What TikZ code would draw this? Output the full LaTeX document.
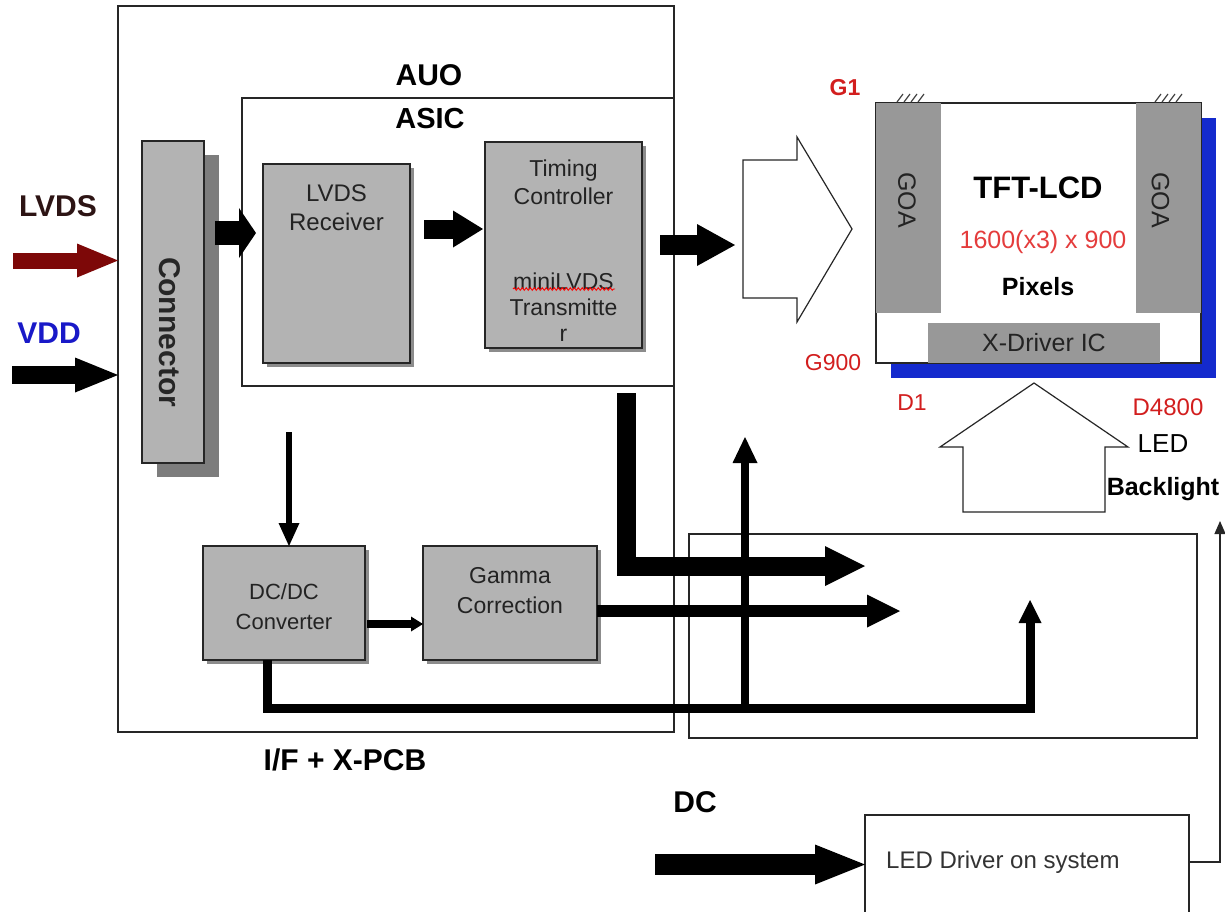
\documentclass[tikz,border=0pt]{standalone}
\usepackage{fontspec}
\setmainfont{Liberation Sans}
\usepackage{xcolor}
\usepackage{tikz}
\usetikzlibrary{arrows.meta,positioning,shadows,decorations.pathmorphing}
\definecolor{boxgray}{RGB}{179,179,179}
\definecolor{shgray}{RGB}{125,125,125}
\definecolor{goagray}{RGB}{152,152,152}
\definecolor{txtgray}{RGB}{35,35,35}
\definecolor{lblred}{RGB}{210,30,30}
\definecolor{pixred}{RGB}{228,60,60}
\definecolor{panelblue}{RGB}{20,42,205}
\definecolor{vddblue}{RGB}{25,25,200}
\definecolor{lvdsred}{RGB}{125,8,8}
\definecolor{lvdsdark}{RGB}{45,20,20}
\tikzset{
  boxline/.style={draw=black!85,line width=1.3pt,inner sep=0pt,outer sep=0pt},
  blk/.style={boxline,fill=boxgray},
  shd/.style={drop shadow={shadow xshift=4pt,shadow yshift=-4pt,fill=black!45,opacity=1}},
  goa/.style={fill=goagray,inner sep=0pt,outer sep=0pt,text=txtgray,font=\fontsize{25}{25}\selectfont},
  goatxt/.style={inner sep=0pt,text=txtgray,font=\fontsize{25}{25}\selectfont},
  blktxt/.style={text=txtgray,align=center,inner sep=0pt},
  bigtxt/.style={font=\bfseries\fontsize{30}{30}\selectfont,inner sep=0pt},
  redlbl/.style={text=lblred,inner sep=0pt,font=\fontsize{23}{23}\selectfont},
  hollow/.style={draw=black!85,line width=1.2pt,fill=white,line join=miter},
  fat/.style n args={3}{line width=#1,line join=miter,-{Triangle[width=#2,length=#3,line width=0pt]}},
}
\begin{document}
\begin{tikzpicture}[x=1pt,y=-1pt]
\useasboundingbox (0,0) rectangle (1225,911);
\clip (0,0) rectangle (1225,911);
% boards
\node[boxline,minimum width=556pt,minimum height=726pt] (auo) at (396,369) {};
\node[boxline,minimum width=432pt,minimum height=288pt] (asic) at (458,242) {};
\node[boxline,minimum width=508pt,minimum height=204pt] (tcon) at (943,636) {};
\node[boxline,minimum width=324pt,minimum height=125pt] (ledd) at (1027,877.5) {};
\node[bigtxt] (auolbl) at (429,75) {AUO};
\node[bigtxt,font=\bfseries\fontsize{29}{29}\selectfont] (asiclbl) at (430,119) {ASIC};
\node[bigtxt] (pcblbl) at (345,760) {I/F + X-PCB};
\node[bigtxt] (dclbl) at (695,802) {DC};
\node[bigtxt,text=lvdsdark] (lvdslbl) at (58,206) {LVDS};
\node[bigtxt,text=vddblue] (vddlbl) at (49,333) {VDD};
% blocks
\node[blk,minimum width=62pt,minimum height=322pt,drop shadow={shadow xshift=15pt,shadow yshift=-14pt,fill=shgray,opacity=1}] (con) at (173,302) {};
\node[bigtxt,rotate=-90,text=black!85] (conlbl) at (170,332) {Connector};
\node[blk,shd,minimum width=147pt,minimum height=199pt] (rx) at (336.5,263.5) {};
\node[blktxt,font=\fontsize{24}{29}\selectfont,below=21pt of rx.north] (rxlbl) {LVDS\\Receiver};
\node[blk,shd,minimum width=157pt,minimum height=206pt] (tc) at (563.5,245) {};
\node[blktxt,font=\fontsize{23}{28}\selectfont,below=18pt of tc.north] (tclbl) {Timing\\Controller};
\node[blktxt,font=\fontsize{23}{26}\selectfont,below=131pt of tc.north] (txlbl) {miniLVDS\\Transmitte\\r};
\draw[red,line width=0.9pt,decorate,decoration={snake,amplitude=1.3pt,segment length=4pt}] (513,289) -- (615,289);
\node[blk,shd,minimum width=162pt,minimum height=114pt] (dcdc) at (284,603) {};
\node[blktxt,font=\fontsize{22}{30}\selectfont,below=37pt of dcdc.north] (dcdclbl) {DC/DC\\Converter};
\node[blk,shd,minimum width=174pt,minimum height=114pt] (gam) at (510,603) {};
\node[blktxt,font=\fontsize{23}{30}\selectfont,below=21pt of gam.north] (gamlbl) {Gamma\\Correction};
% panel
\node[boxline,fill=white,minimum width=325pt,minimum height=260pt,drop shadow={shadow xshift=15pt,shadow yshift=-15pt,fill=panelblue,opacity=1}] (lcd) at (1038.5,233) {};
\node[goa,minimum width=65pt,minimum height=210pt,anchor=north west] (goal) at (lcd.north west) {};
\node[goa,minimum width=65pt,minimum height=210pt,anchor=north east] (goar) at (lcd.north east) {};
\node[goa,minimum width=232pt,minimum height=40pt,anchor=south west] (xdrv) at ([xshift=52pt]lcd.south west) {X-Driver IC};
\node[goatxt,rotate=-90] (goallbl) at ([xshift=-1.5pt,yshift=8pt]goal.center) {GOA};
\node[goatxt,rotate=-90] (goarlbl) at ([xshift=-8pt,yshift=8pt]goar.center) {GOA};
\foreach \hx in {897,1155}
  \foreach \i in {0,...,3}
    \draw[line width=1.2pt,black!75] (\hx+7*\i,102) -- ++(6,-8);
\node[font=\bfseries\fontsize{31}{31}\selectfont,inner sep=0pt] (tftlbl) at (1038,188) {TFT-LCD};
\node[text=pixred,font=\fontsize{25}{25}\selectfont,inner sep=0pt,anchor=base] (reslbl) at (1043,248) {1600(x3) x 900};
\node[font=\bfseries\fontsize{25}{25}\selectfont,inner sep=0pt] (pixlbl) at (1038,287) {Pixels};
\node[redlbl,font=\bfseries\fontsize{23}{23}\selectfont] (g1) at (845,88) {G1};
\node[redlbl] (g900) at (833,363) {G900};
\node[redlbl] (d1) at (912,403) {D1};
\node[redlbl,font=\fontsize{24}{24}\selectfont] (d4800) at (1168,407) {D4800};
\node[inner sep=0pt,font=\fontsize{26}{26}\selectfont] (ledlbl) at (1163,444) {LED};
\node[inner sep=0pt,font=\bfseries\fontsize{25}{25}\selectfont,anchor=base] (bllbl) at (1163,495) {Backlight};
\node[inner sep=0pt,text=black!80,font=\fontsize{24}{24}\selectfont,anchor=base west] (leddlbl) at (886,868) {LED Driver on system};
% hollow arrows
\draw[hollow] (743,160) -- (797,160) -- (797,137) -- (852,229) -- (797,322) -- (797,298) -- (743,298) -- cycle;
\draw[hollow] (963,512) -- (963,447) -- (940,447) -- (1034,383) -- (1128,447) -- (1105,447) -- (1105,512) -- cycle;
% connectors
\coordinate (lvdsin) at (13,260.5);
\coordinate (vddin) at (12,375);
\coordinate (conout) at (215,233);
\coordinate (tcdown) at (626.5,393);
\coordinate (tctip) at (865,566);
\coordinate (gtip) at (900,611);
\coordinate (dcturn) at (1030,708);
\coordinate (dctip) at (1030,600);
\coordinate (upfoot) at (745,708);
\coordinate (uptip) at (745,437);
\coordinate (pwrin) at (289,432);
\coordinate (dcin) at (655,864.5);
\coordinate (bltip) at (1220,521);
\draw[fat={16pt}{34pt}{41pt},lvdsred] (lvdsin) -- (auo.west |- lvdsin);
\draw[fat={18pt}{35pt}{43pt}] (vddin) -- (auo.west |- vddin);
\draw[fat={24pt}{50pt}{17pt},shorten >=7pt] (conout) -- (rx.west |- conout);
\draw[fat={19pt}{37pt}{30pt},shorten <=14pt,shorten >=2pt] (rx.east |- 0,229) -- (tc.west |- 0,229);
\draw[fat={20pt}{42pt}{38pt},shorten <=18pt,shorten >=8pt] (tc.east |- 0,245) -- (743,245);
\draw[fat={19pt}{40pt}{40pt}] (tcdown) |- (tctip);
\draw[fat={12pt}{33pt}{33pt}] (gam.east |- gtip) -- (gtip);
\draw[fat={9pt}{23pt}{23pt}] ([xshift=-17pt]dcdc.south) |- (dcturn) -- (dctip);
\draw[fat={8pt}{25pt}{26pt}] (upfoot) -- (uptip);
\draw[fat={6pt}{21pt}{23pt}] (pwrin) -- (dcdc.north -| pwrin);
\draw[fat={8pt}{15pt}{12pt},shorten <=2pt] (dcdc.east |- 0,624) -- (gam.west |- 0,624);
\draw[fat={21pt}{40pt}{50pt}] (dcin) -- (ledd.west |- dcin);
\draw[line width=1.3pt,black!85,-{Triangle[width=11pt,length=13pt]}] (ledd.east |- 0,862) -| (bltip);
\end{tikzpicture}
\end{document}
